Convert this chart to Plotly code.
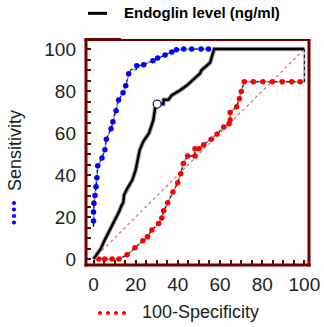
import plotly.graph_objects as go

# ROC curve of endoglin level: (100-Specificity, Sensitivity) vertices
roc_x = [0, 1.8, 3.4, 5.3, 7.4, 9.7, 12.1, 13.4, 14.1, 14.5, 16.0, 18.4, 20.0, 21.1, 21.9,
         23.6, 26.3, 28.4, 29.2, 30.2, 33.1, 33.3, 35.5, 37.1, 40.0, 41.0, 44.2, 46.6,
         48.6, 50.5, 51.3, 53.0, 55.3, 56.1, 57.2, 100]
roc_y = [0, 2.4, 4.8, 9.0, 13.0, 17.8, 22.5, 25.7, 26.8, 30.5, 33.7, 37.6, 42.4, 47.9, 51.9,
         55.9, 59.9, 66.2, 71.8, 73.8, 73.8, 75.8, 75.8, 78.0, 79.5, 80.3, 82.6, 85.0,
         86.9, 88.4, 90.0, 91.6, 93.5, 96.3, 100, 100]

# Optimal criterion point
crit_x = [30.2]
crit_y = [73.8]

# Upper confidence bound
upper_x = [0, 0, 0.2, 0.7, 1.2, 1.6, 2.0, 4.0, 5.4, 6.1, 8.3, 9.2, 10.7, 11.9, 14.0, 15.3,
           16.7, 20.5, 23.8, 28.2, 30.4, 33.9, 37.1, 39.3, 42.8, 46.6, 51.0, 54.5]
upper_y = [18.1, 22.4, 26.5, 30.2, 34.4, 38.7, 44.4, 48.1, 52.0, 57.0, 62.0, 65.4, 70.6, 75.7,
           79.2, 82.5, 88.2, 92.0, 92.5, 94.4, 95.7, 97.1, 98.6, 99.7, 100, 100, 100, 100]
upper_path_x = [0] + upper_x[:17] + [17.9, 20.3] + upper_x[17:]
upper_path_y = [15.4] + upper_y[:17] + [90.3, 90.3] + upper_y[17:]

# Lower confidence bound
lower_x = [2.5, 5.3, 8.8, 12.1, 15.9, 19.6, 23.4, 25.6, 27.7, 30.9, 32.4, 33.3, 35.2, 37.7,
           39.9, 41.4, 42.6, 44.6, 48.1, 48.1, 50.0, 52.3, 55.8, 58.6, 61.8, 64.3, 64.8, 64.8,
           67.9, 69.2, 70.1, 71.5, 75.8, 80.3, 84.8, 89.5, 94.0, 98.0]
lower_y = [0, 0, 0, 0, 2.0, 5.4, 8.7, 10.6, 13.8, 16.9, 19.5, 23.0, 26.8, 31.9,
           36.3, 40.6, 45.5, 49.0, 49.0, 52.5, 52.5, 54.4, 57.0, 59.5, 62.9, 64.4, 66.2, 69.8,
           72.5, 76.3, 79.8, 84.4, 84.4, 84.4, 84.4, 84.4, 84.4, 84.4]
lower_path_x = lower_x + [100, 100]
lower_path_y = lower_y + [84.4, 100]

diag_x = [0, 100]
diag_y = [0, 100]

x_ticks = [0, 20, 40, 60, 80, 100]
y_ticks = [0, 20, 40, 60, 80, 100]

FRAME = "#6e0000"
FONT = "Liberation Sans, Arial, sans-serif"

fig = go.Figure()

# reference diagonal
fig.add_trace(go.Scatter(x=diag_x, y=diag_y, mode="lines",
                         line=dict(color="#d07070", width=1.2, dash="dot"),
                         hoverinfo="skip"))

# confidence bounds: grey path with black dashes and coloured dots
for px, py, mx, my, col in [(upper_path_x, upper_path_y, upper_x, upper_y, "#0000ff"),
                            (lower_path_x, lower_path_y, lower_x, lower_y, "#ff0000")]:
    fig.add_trace(go.Scatter(x=px, y=py, mode="lines",
                             line=dict(color="#b0b0b0", width=2), hoverinfo="skip"))
    fig.add_trace(go.Scatter(x=px, y=py, mode="lines",
                             line=dict(color="#000000", width=1, dash="3px,3px"),
                             hoverinfo="skip"))
    fig.add_trace(go.Scatter(x=mx, y=my, mode="markers",
                             marker=dict(color=col, size=5.5, line=dict(width=0))))

# ROC curve with soft grey halo
fig.add_trace(go.Scatter(x=roc_x, y=roc_y, mode="lines",
                         line=dict(color="#a8a8a8", width=4.5), hoverinfo="skip"))
fig.add_trace(go.Scatter(x=roc_x, y=roc_y, mode="lines",
                         line=dict(color="#000000", width=2.5)))
fig.add_trace(go.Scatter(x=crit_x, y=crit_y, mode="markers",
                         marker=dict(color="white", size=8,
                                     line=dict(color="#1a1a80", width=1.3))))

tickfont = dict(family=FONT, size=19, color="#222222")
common = dict(showgrid=False, zeroline=False, showline=False, ticks="inside",
              automargin=False,
              ticklen=5, tickwidth=2, tickcolor=FRAME, tickfont=tickfont,
              minor=dict(dtick=5, ticks="inside", ticklen=5, tickwidth=2, tickcolor=FRAME))

fig.update_xaxes(range=[-3.56, 102.2], tickvals=x_ticks, ticklabelstandoff=6, **common)
fig.update_yaxes(range=[-2.86, 104.3], tickvals=y_ticks, ticklabelstandoff=9, **common)

shapes = [
    # frame
    dict(type="line", xref="paper", yref="paper", x0=0, x1=0, y0=-0.007, y1=1.0,
         line=dict(color=FRAME, width=3)),
    dict(type="line", xref="paper", yref="paper", x0=-0.007, x1=1.007, y0=0, y1=0,
         line=dict(color=FRAME, width=3)),
    dict(type="line", xref="paper", yref="paper", x0=1, x1=1, y0=-0.007, y1=1.0,
         line=dict(color=FRAME, width=3)),
    dict(type="line", xref="paper", yref="paper", x0=-0.007, x1=1.007, y0=1, y1=1,
         line=dict(color=FRAME, width=2)),
    dict(type="line", xref="paper", yref="paper", x0=-0.007, x1=0.157, y0=1.002, y1=1.002,
         line=dict(color=FRAME, width=3)),
    # legend line for ROC curve
    dict(type="line", xref="paper", yref="paper", x0=(88 - 86) / 223, x1=(107 - 86) / 223,
         y0=(265 - 13.3) / 225, y1=(265 - 13.3) / 225,
         line=dict(color="black", width=3)),
]

# dotted legend keys next to the axis titles
for yy in [203, 209.5, 216, 222.5]:
    shapes.append(dict(type="circle", xref="paper", yref="paper",
                       xsizemode="pixel", ysizemode="pixel",
                       xanchor=(14 - 86) / 223, yanchor=(265 - yy) / 225,
                       x0=-2, x1=2, y0=-2, y1=2,
                       fillcolor="#0000ff", line=dict(width=0)))
for xx in [100, 108, 116, 124]:
    shapes.append(dict(type="circle", xref="paper", yref="paper",
                       xsizemode="pixel", ysizemode="pixel",
                       xanchor=(xx - 86) / 223, yanchor=(265 - 313) / 225,
                       x0=-2, x1=2, y0=-2, y1=2,
                       fillcolor="#ff0000", line=dict(width=0)))

annotations = [
    dict(text="Endoglin level (ng/ml)", xref="paper", yref="paper",
         x=(122 - 86) / 223, y=(265 - 12.5) / 225, xanchor="left", yanchor="middle",
         showarrow=False, font=dict(family=FONT, size=15, color="black", weight="bold")),
    dict(text="Sensitivity", xref="paper", yref="paper", textangle=-90,
         x=(15 - 86) / 223, y=(265 - 151) / 225, xanchor="center", yanchor="middle",
         showarrow=False, font=dict(family=FONT, size=18, color="#222222")),
    dict(text="100-Specificity", xref="paper", yref="paper",
         x=(200 - 86) / 223, y=(265 - 312) / 225, xanchor="center", yanchor="middle",
         showarrow=False, font=dict(family=FONT, size=18, color="#222222")),
]

fig.update_layout(
    width=324, height=327,
    margin=dict(l=86, r=15, t=40, b=62, pad=0, autoexpand=False),
    paper_bgcolor="white", plot_bgcolor="white",
    showlegend=False,
    shapes=shapes, annotations=annotations,
    font=dict(family=FONT),
)

fig.write_html("out.html", config={"displayModeBar": False})
